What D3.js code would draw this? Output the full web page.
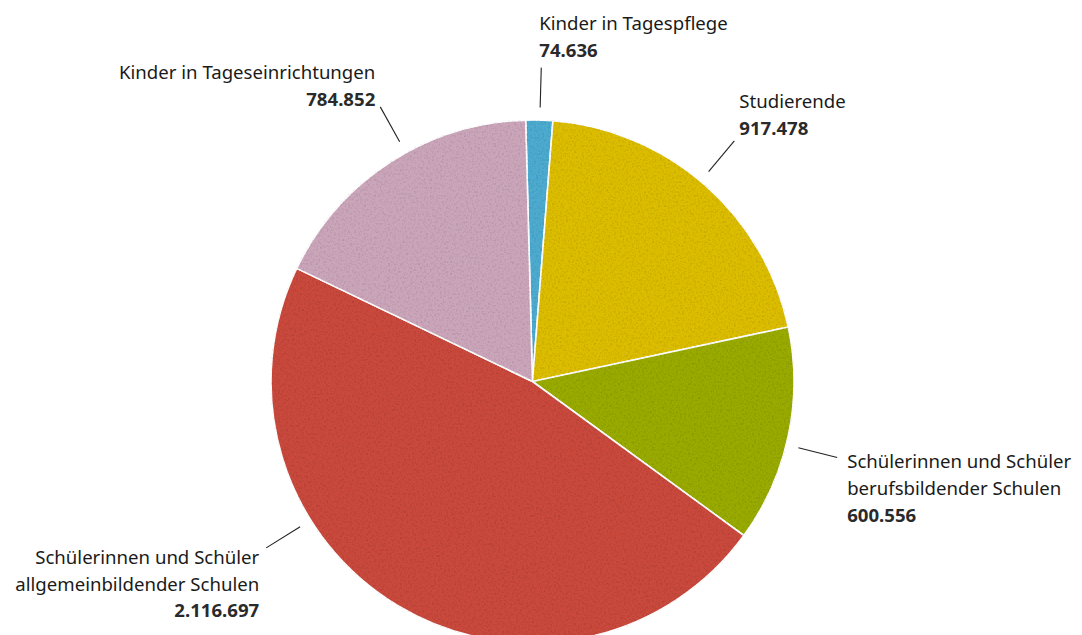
<!DOCTYPE html>
<html><head><meta charset="utf-8">
<script src="https://cdn.jsdelivr.net/npm/d3@7"></script>
<style>
html,body{margin:0;padding:0;background:#fff;}
svg{display:block;}
text{font-family:"Noto Sans","Open Sans",sans-serif;fill:#1a1a1a;}
</style></head><body>
<svg id="chart" width="1082" height="635"></svg>
<script>
// Data
const categories = [
  "Kinder in Tagespflege",
  "Studierende",
  "Schülerinnen und Schüler berufsbildender Schulen",
  "Schülerinnen und Schüler allgemeinbildender Schulen",
  "Kinder in Tageseinrichtungen"
];
const values = [74636, 917478, 600556, 2116697, 784852];
const valueLabels = ["74.636", "917.478", "600.556", "2.116.697", "784.852"];
const labelLines = [
  ["Kinder in Tagespflege"],
  ["Studierende"],
  ["Schülerinnen und Schüler", "berufsbildender Schulen"],
  ["Schülerinnen und Schüler", "allgemeinbildender Schulen"],
  ["Kinder in Tageseinrichtungen"]
];
const colors = ["#4eabd0", "#dcbd02", "#99aa02", "#c9483d", "#cba6ba"];

// Layout
const W = 1082, H = 635;
const cx = 532.5, cy = 381.5, R = 261.5;
const startDeg = -1.5;
const leaderR0 = 274, leaderR1 = 314;
// label layout: leader angle (deg, clockwise from top), text anchor, offsets relative to leader end
const labelLayout = [
  {angle: 1.6,   anchor: "start", dx: -2, dy: -11, valign: "bottom"},
  {angle: 40,    anchor: "start", dx: 5,  dy: -6,  valign: "bottom"},
  {angle: 104,   anchor: "start", dx: 10, dy: 11,  valign: "top"},
  {angle: 238,   anchor: "end",   dx: -7, dy: 16,  valign: "top"},
  {angle: 331,   anchor: "end",   dx: -5, dy: -1,  valign: "bottom"}
];
const lineH = 26.7;

const svg = d3.select("#chart");

// grain filter
const defs = svg.append("defs");
const f = defs.append("filter").attr("id","grain").attr("x","0").attr("y","0").attr("width","100%").attr("height","100%");
f.append("feTurbulence").attr("type","fractalNoise").attr("baseFrequency","0.5").attr("numOctaves","2").attr("seed","3").attr("result","noise");
f.append("feColorMatrix").attr("in","noise").attr("type","matrix")
  .attr("values","0 0 0 0 0  0 0 0 0 0  0 0 0 0 0  0 0 0 -0.6 0.32").attr("result","dark");
f.append("feComposite").attr("in","dark").attr("in2","SourceGraphic").attr("operator","in").attr("result","darkIn");
f.append("feMerge").selectAll("feMergeNode").data(["SourceGraphic","darkIn"]).join("feMergeNode").attr("in", d=>d);

const data = categories.map((c,i)=>({cat:c, value:values[i], i}));
const s0 = startDeg*Math.PI/180;
const pie = d3.pie().value(d=>d.value).sort(null).startAngle(s0).endAngle(s0+2*Math.PI);
const arc = d3.arc().innerRadius(0).outerRadius(R);
const color = d3.scaleOrdinal().domain(categories).range(colors);

const g = svg.append("g").attr("transform",`translate(${cx},${cy})`);
g.selectAll("path.slice").data(pie(data)).join("path")
  .attr("class","slice")
  .attr("d", arc)
  .attr("fill", d=>color(d.data.cat))
  .attr("filter","url(#grain)")
  .attr("stroke","#fff").attr("stroke-width",1.6).attr("stroke-linejoin","round");

// leaders & labels
const pt = (deg, r) => { const a = deg*Math.PI/180; return [Math.sin(a)*r, -Math.cos(a)*r]; };
labelLayout.forEach((L,i)=>{
  const p0 = pt(L.angle, leaderR0), p1 = pt(L.angle, leaderR1);
  g.append("line").attr("x1",p0[0]).attr("y1",p0[1]).attr("x2",p1[0]).attr("y2",p1[1])
    .attr("stroke","#222").attr("stroke-width",1.1);
  const lines = labelLines[i].map(t=>({t, bold:false})).concat([{t:valueLabels[i], bold:true}]);
  const n = lines.length;
  const x = p1[0] + L.dx;
  const y0 = L.valign === "top" ? p1[1] + L.dy : p1[1] + L.dy - (n-1)*lineH;
  const t = g.append("text").attr("text-anchor", L.anchor).style("font-size","18.6px");
  lines.forEach((ln,k)=>{
    t.append("tspan").attr("x", x).attr("y", y0 + k*lineH)
      .style("font-weight", ln.bold ? 700 : 400)
      .style("fill", ln.bold ? "#2a2a2a" : "#1a1a1a")
      .text(ln.t);
  });
});
</script>
</body></html>
